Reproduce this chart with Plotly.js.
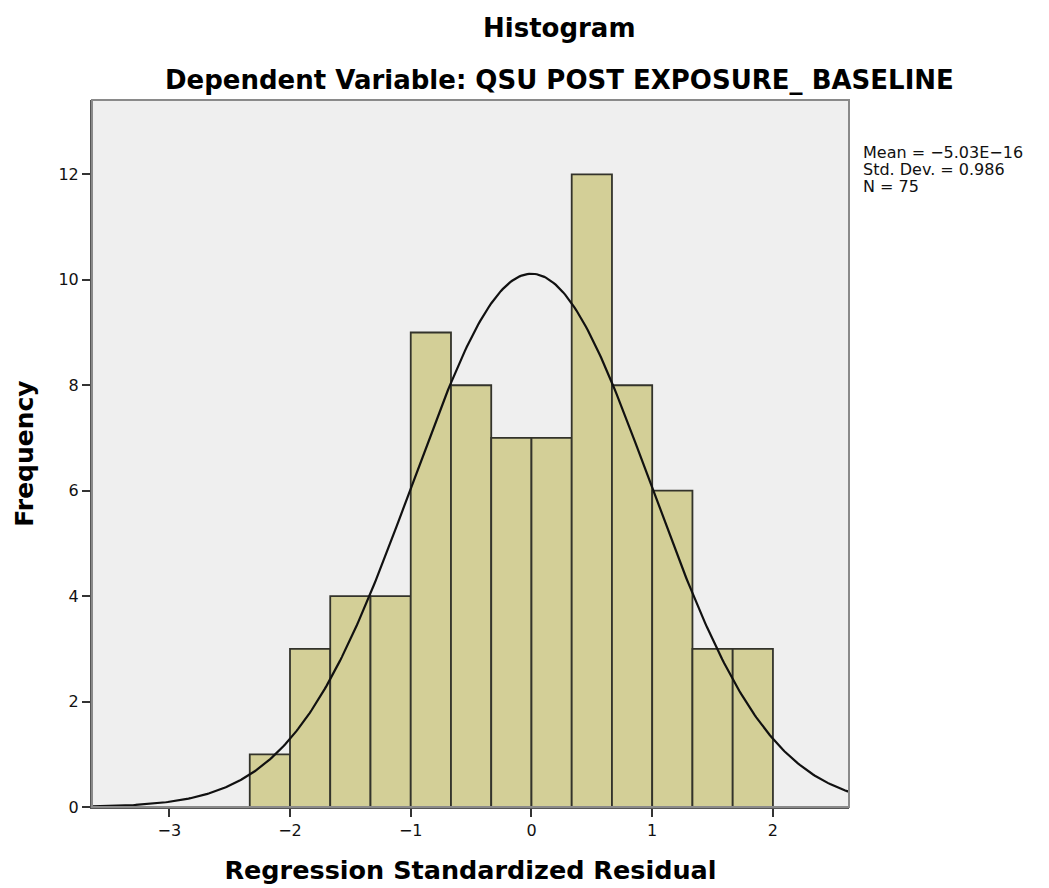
<!DOCTYPE html>
<html>
<head>
<meta charset="utf-8">
<script src="https://cdn.plot.ly/plotly-3.0.1.min.js"></script>
<style>
  html, body { margin: 0; padding: 0; background: #ffffff; }
  #chart { width: 1049px; height: 888px; }
</style>
</head>
<body>
<div id="chart"></div>
<script>
// Residual histogram: bin edges (width 1/3) and frequencies
const binEdges = [-2.3333, -2.0, -1.6667, -1.3333, -1.0, -0.6667, -0.3333, 0.0,
                  0.3333, 0.6667, 1.0, 1.3333, 1.6667, 2.0];
const frequencies = [1, 3, 4, 4, 9, 8, 7, 7, 12, 8, 6, 3, 3];

// Summary statistics shown beside the plot
const statMean = -5.03e-16;
const statSD = 0.986;
const statN = 75;
const statLines = ['Mean = \u22125.03E\u221216', 'Std. Dev. = 0.986', 'N = 75'];

const xTicks = [-3, -2, -1, 0, 1, 2];
const yTicks = [0, 2, 4, 6, 8, 10, 12];

const xRange = [-3.64, 2.63];
const yRange = [0, 13.41];

// Bar geometry derived from the bin edges
const binCenters = [];
const binWidths = [];
for (let i = 0; i < frequencies.length; i++) {
  binCenters.push((binEdges[i] + binEdges[i + 1]) / 2);
  binWidths.push(binEdges[i + 1] - binEdges[i]);
}
const binWidth = binEdges[1] - binEdges[0];

// Normal curve scaled to counts: N * binWidth * pdf(x; mean, sd)
const curveX = [];
const curveY = [];
const steps = 400;
for (let k = 0; k <= steps; k++) {
  const x = xRange[0] + (xRange[1] - xRange[0]) * k / steps;
  const z = (x - statMean) / statSD;
  curveX.push(x);
  curveY.push(statN * binWidth * Math.exp(-0.5 * z * z) / (statSD * Math.sqrt(2 * Math.PI)));
}

const fontFam = '"DejaVu Sans", "Liberation Sans", Arial, sans-serif';

const traces = [
  {
    type: 'bar',
    x: binCenters,
    y: frequencies,
    width: binWidths,
    marker: { color: '#d3cf97', line: { color: '#33332b', width: 1.8 } },
    hoverinfo: 'x+y'
  },
  {
    type: 'scatter',
    mode: 'lines',
    x: curveX,
    y: curveY,
    line: { color: '#111111', width: 2.2 },
    hoverinfo: 'skip'
  }
];

const statAnnotations = statLines.map((t, i) => ({
  text: t, xref: 'paper', yref: 'paper', x: 1, y: 1, xshift: 12, yshift: -52 - 17 * i,
  xanchor: 'left', yanchor: 'middle', align: 'left', showarrow: false,
  font: { size: 16, family: fontFam, color: '#111111' }
}));

const layout = {
  width: 1049,
  height: 888,
  showlegend: false,
  paper_bgcolor: '#ffffff',
  plot_bgcolor: '#efefef',
  margin: { l: 92, r: 200, t: 100, b: 81 },
  bargap: 0,
  font: { family: fontFam, color: '#111111' },
  xaxis: {
    range: xRange,
    tickvals: xTicks,
    ticktext: xTicks.map(v => v < 0 ? '\u2212' + Math.abs(v) : String(v)),
    ticks: 'outside',
    ticklen: 8,
    tickwidth: 2,
    tickcolor: '#333333',
    showgrid: false,
    zeroline: false,
    showline: true,
    linecolor: '#555555',
    linewidth: 2,
    tickfont: { size: 16, family: fontFam, color: '#111111' },
    title: { text: 'Regression Standardized Residual', font: { size: 25.5, family: fontFam, weight: 'bold', color: '#000000' }, standoff: 22 }
  },
  yaxis: {
    range: yRange,
    tickvals: yTicks,
    ticks: 'outside',
    ticklen: 8,
    tickwidth: 2,
    tickcolor: '#333333',
    showgrid: false,
    zeroline: false,
    showline: true,
    linecolor: '#555555',
    linewidth: 2,
    tickfont: { size: 16, family: fontFam, color: '#111111' },
    title: { text: 'Frequency', font: { size: 25, family: fontFam, weight: 'bold', color: '#000000' }, standoff: 18 }
  },
  shapes: [
    {
      type: 'rect', xref: 'paper', yref: 'paper', x0: 0, x1: 1, y0: 0, y1: 1,
      line: { color: '#8a8a8a', width: 2 }, fillcolor: 'rgba(0,0,0,0)', layer: 'above'
    }
  ],
  annotations: [
    {
      text: '<b>Histogram</b>', xref: 'paper', yref: 'paper', x: 0.617, y: 1,
      yshift: 72, xanchor: 'center', yanchor: 'middle', showarrow: false,
      font: { size: 26, family: fontFam, color: '#000000' }
    },
    {
      text: '<b>Dependent Variable: QSU POST EXPOSURE_ BASELINE</b>', xref: 'paper', yref: 'paper', x: 0.617, y: 1,
      yshift: 20, xanchor: 'center', yanchor: 'middle', showarrow: false,
      font: { size: 26, family: fontFam, color: '#000000' }
    }
  ].concat(statAnnotations)
};

Plotly.newPlot('chart', traces, layout, { displayModeBar: false, staticPlot: true });
</script>
</body>
</html>
